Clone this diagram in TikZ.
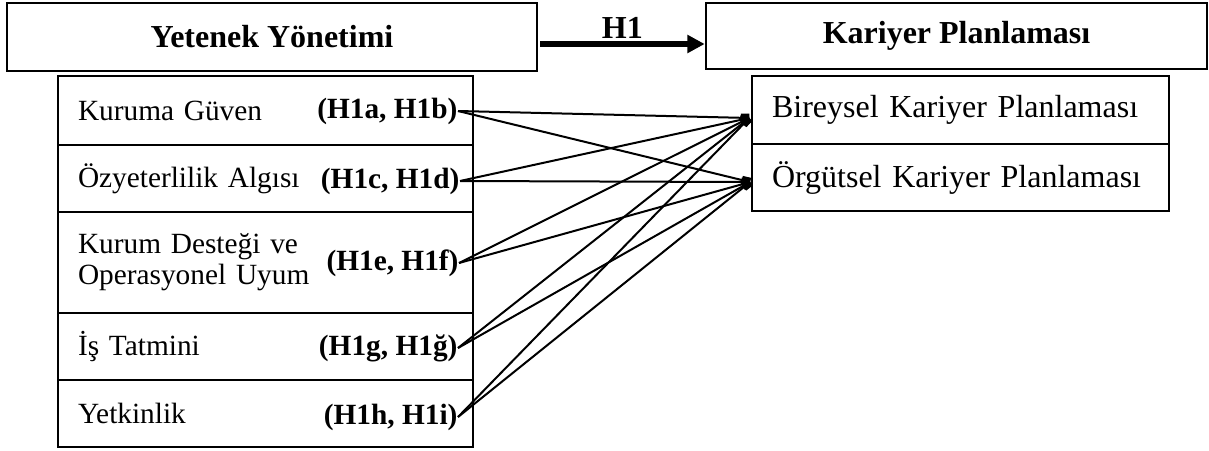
\documentclass[tikz,border=0pt]{standalone}
\usepackage{fontspec}
\setmainfont{Liberation Serif}
\usetikzlibrary{positioning,arrows.meta}

\begin{document}
\begin{tikzpicture}[x=0.375pt, y=-0.375pt,
    header/.style={rectangle, draw, line width=1pt, font=\fontsize{12}{14}\selectfont\bfseries},
    factor/.style={rectangle, draw, line width=1pt, minimum width=155.625pt, text width=140.625pt, inner xsep=7.5pt, align=left, font=\fontsize{11}{11.6}\selectfont},
    outcome/.style={rectangle, draw, line width=1pt, minimum width=156.375pt, text width=141.375pt, inner xsep=7.5pt, align=left, font=\fontsize{12}{14}\selectfont},
    hyp/.style={anchor=east, inner sep=0pt, font=\fontsize{11}{13}\selectfont\bfseries},
    link/.style={-{Square[length=3.2pt,width=3.2pt]}, line width=0.75pt}
]
\useasboundingbox (0,0) rectangle (1209,450);

\node[header, minimum width=198.75pt, minimum height=25.5pt] (ty) at (272,37) {Yetenek Yönetimi};
\node[header, minimum width=187.875pt, minimum height=24.75pt] (kp) at (956.5,36) {Kariyer Planlaması};

\coordinate (h1s) at (540,44);
\draw[-{Triangle[length=6.5pt,width=6.5pt]}, line width=2pt] (h1s) -- (h1s -| kp.west) node[midway, above, inner sep=1.2pt, font=\fontsize{12}{14}\selectfont\bfseries] {H1};

% dimensions of talent management
\node[factor, minimum height=25.875pt] (kg) at (265.5,110.5) {Kuruma Güven};
\node[factor, minimum height=25.125pt] (oa) at (265.5,178.5) {Özyeterlilik Algısı};
\node[factor, minimum height=37.875pt] (kd) at (265.5,262.5) {Kurum Desteği ve\\Operasyonel Uyum};
\node[factor, minimum height=25.125pt] (it) at (265.5,346.5) {İş Tatmini};
\node[factor, minimum height=25.125pt] (yt) at (265.5,413.5) {Yetkinlik};

% dimensions of career planning
\node[outcome, minimum height=25.5pt] (bkp) at (960.5,110) {Bireysel Kariyer Planlaması};
\node[outcome, minimum height=25.125pt] (okp) at (960.5,177.5) {Örgütsel Kariyer Planlaması};

\node[hyp] (h1ab) at (458,111) {(H1a, H1b)};
\node[hyp] (h1cd) at (460,181) {(H1c, H1d)};
\node[hyp] (h1ef) at (459,263) {(H1e, H1f)};
\node[hyp] (h1gg) at (458,348) {(H1g, H1ğ)};
\node[hyp] (h1hi) at (458,417) {(H1h, H1i)};

\coordinate (bin) at ([xshift=-0.5pt,yshift=-3pt]bkp.west);
\coordinate (oin) at ([xshift=-0.2pt,yshift=-1.7pt]okp.west);

\draw[link] (h1ab.east) -- (bin);
\draw[link] (h1ab.east) -- (oin);
\draw[link] (h1cd.east) -- (bin);
\draw[link] (h1cd.east) -- (oin);
\draw[link] (h1ef.east) -- (bin);
\draw[link] (h1ef.east) -- (oin);
\draw[link] (h1gg.east) -- (bin);
\draw[link] (h1gg.east) -- (oin);
\draw[link] (h1hi.east) -- (bin);
\draw[link] (h1hi.east) -- (oin);
\end{tikzpicture}
\end{document}
